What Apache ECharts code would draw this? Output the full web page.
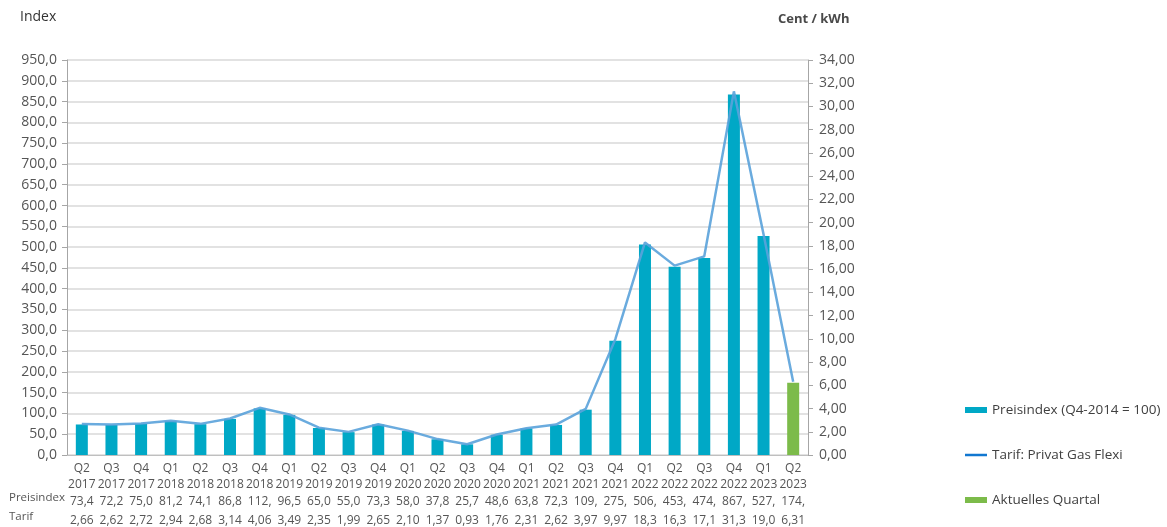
<!DOCTYPE html>
<html><head><meta charset="utf-8">
<script src="https://cdn.jsdelivr.net/npm/echarts@6/dist/echarts.min.js"></script>
<style>html,body{margin:0;padding:0;background:#fff}#c{width:1167px;height:527px}</style>
</head><body><div id="c"></div>
<script>
const quarters = ["Q2","Q3","Q4","Q1","Q2","Q3","Q4","Q1","Q2","Q3","Q4","Q1","Q2","Q3","Q4","Q1","Q2","Q3","Q4","Q1","Q2","Q3","Q4","Q1","Q2"];
const years = ["2017","2017","2017","2018","2018","2018","2018","2019","2019","2019","2019","2020","2020","2020","2020","2021","2021","2021","2021","2022","2022","2022","2022","2023","2023"];
const preisindex = [73.4,72.2,75.0,81.2,74.1,86.8,112,96.5,65.0,55.0,73.3,58.0,37.8,25.7,48.6,63.8,72.3,109,275,506,453,474,867,527,174];
const tarif = [2.66,2.62,2.72,2.94,2.68,3.14,4.06,3.49,2.35,1.99,2.65,2.10,1.37,0.93,1.76,2.31,2.62,3.97,9.97,18.3,16.3,17.1,31.3,19.0,6.31];
const preisLabels = ["73,4","72,2","75,0","81,2","74,1","86,8","112,","96,5","65,0","55,0","73,3","58,0","37,8","25,7","48,6","63,8","72,3","109,","275,","506,","453,","474,","867,","527,","174,"];
const tarifLabels = ["2,66","2,62","2,72","2,94","2,68","3,14","4,06","3,49","2,35","1,99","2,65","2,10","1,37","0,93","1,76","2,31","2,62","3,97","9,97","18,3","16,3","17,1","31,3","19,0","6,31"];
const currentIdx = 24;

const cats = quarters.map((q,i)=>q+" "+years[i]);
const mainBars = preisindex.map((v,i)=> i===currentIdx ? '-' : v);
const curBars = preisindex.map((v,i)=> i===currentIdx ? v : '-');

const FONT = "'Open Sans', 'Noto Sans', sans-serif";
const chart = echarts.init(document.getElementById('c'));
chart.setOption({
  animation:false,
  textStyle:{fontFamily:FONT},
  grid:{left:67,right:359,top:60,bottom:67},
  legend:{
    orient:'vertical', left:960, top:398, itemGap:31, itemWidth:22, itemHeight:6,
    textStyle:{fontSize:13.5,color:'#404040',fontFamily:FONT},
    data:[
      {name:'Preisindex (Q4-2014 = 100)', icon:'rect'},
      {name:'Tarif: Privat Gas Flexi', icon:'path://M0,0L22,0L22,2.5L0,2.5Z', itemStyle:{color:'#1177d0'}},
      {name:'Aktuelles Quartal', icon:'rect'}
    ]
  },
  graphic:[
    {type:'text', left:20, top:10, style:{text:'Index', fontSize:14, fill:'#333', fontFamily:FONT}},
    {type:'text', left:778, top:13, style:{text:'Cent / kWh', fontSize:13, fontWeight:'bold', fill:'#4a4a4a', fontFamily:FONT}},
    {type:'text', left:9, top:492, style:{text:'Preisindex', fontSize:11.5, fill:'#555', fontFamily:FONT}},
    {type:'text', left:9, top:511, style:{text:'Tarif', fontSize:11.5, fill:'#555', fontFamily:FONT}}
  ],
  xAxis:{
    type:'category', data:cats,
    axisLine:{lineStyle:{color:'#bfbfbf'}},
    axisTick:{show:false},
    axisLabel:{
      interval:0, margin:6, color:'#555', fontSize:12,
      formatter:(v,i)=>`{q|${quarters[i]}}\n{q|${years[i]}}\n{p|${preisLabels[i]}}\n{t|${tarifLabels[i]}}`,
      rich:{
        q:{fontSize:12,lineHeight:16,color:'#555',fontFamily:FONT},
        p:{fontSize:12,lineHeight:15,color:'#555',fontFamily:FONT,verticalAlign:'bottom'},
        t:{fontSize:12,lineHeight:19,color:'#555',fontFamily:FONT,verticalAlign:'bottom'}
      }
    }
  },
  yAxis:[
    {type:'value', min:0, max:950, interval:50, position:'left',
     axisLine:{show:true,lineStyle:{color:'#a6a6a6'}},
     axisTick:{show:true,length:5,lineStyle:{color:'#a6a6a6'}},
     axisLabel:{color:'#555',fontSize:14,margin:10,formatter:v=>v.toFixed(1).replace('.',',')},
     splitLine:{lineStyle:{color:'#d9d9d9',width:1.5}}},
    {type:'value', min:0, max:34, interval:2, position:'right',
     axisLine:{show:true,lineStyle:{color:'#a6a6a6'}},
     axisTick:{show:true,length:5,lineStyle:{color:'#a6a6a6'}},
     axisLabel:{color:'#555',fontSize:14,margin:11,formatter:v=>v.toFixed(2).replace('.',',')},
     splitLine:{show:false}}
  ],
  series:[
    {name:'Preisindex (Q4-2014 = 100)', type:'bar', data:mainBars, barWidth:12, barGap:'-100%', itemStyle:{color:'#00a8c6'}, z:2},
    {name:'Aktuelles Quartal', type:'bar', data:curBars, barWidth:12, barGap:'-100%', itemStyle:{color:'#7cbb4a'}, z:2},
    {name:'Tarif: Privat Gas Flexi', type:'line', yAxisIndex:1, data:tarif, symbol:'none', showSymbol:false,
     lineStyle:{color:'#5aa2da',width:2.5,opacity:0.9}, itemStyle:{color:'#1177d0'}, z:3}
  ]
});
</script></body></html>
